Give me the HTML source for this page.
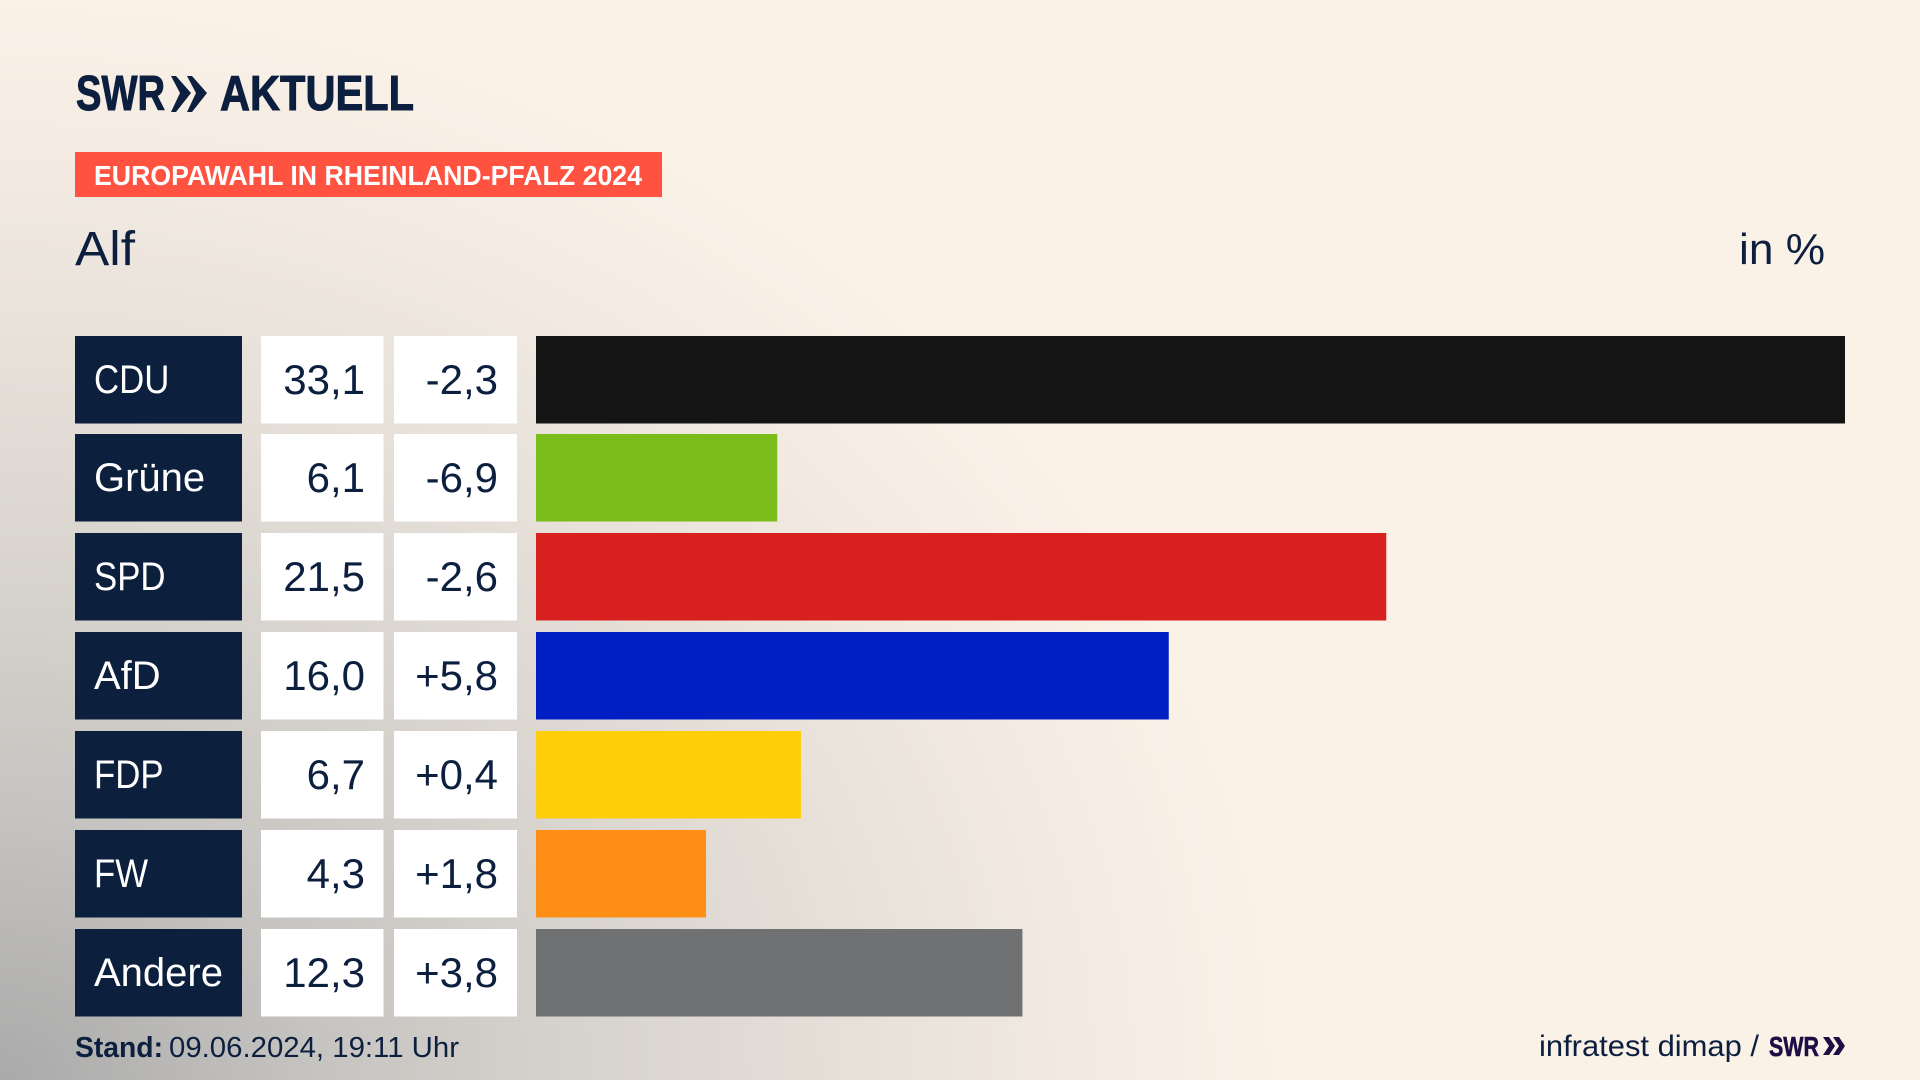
<!DOCTYPE html>
<html lang="de">
<head>
<meta charset="utf-8">
<title>Europawahl in Rheinland-Pfalz 2024 – Alf</title>
<style>
html,body{margin:0;padding:0;width:1920px;height:1080px;overflow:hidden;background:#faf1e7}
#bg{position:absolute;left:0;top:0;width:1920px;height:1080px;
background:
radial-gradient(ellipse 1280px 1080px at 0px 1080px,#aaaaaa 0%,#c6c4c1 25%,#d4d0cb 42%,#e5dfd8 65%,#f3ebe2 85%,#faf1e7 100%),
#faf1e7}
svg{position:absolute;left:0;top:0}
text{font-family:"Liberation Sans",sans-serif;fill:#0c1f3f}
.name{fill:#fff;font-size:40px}
.num{font-size:42px;text-anchor:end}
.bar-0{fill:#141414}.bar-1{fill:#7abd1a}.bar-2{fill:#d8201e}.bar-3{fill:#0020c4}
.bar-4{fill:#ffcd0a}.bar-5{fill:#ff8e17}.bar-6{fill:#707173}
</style>
</head>
<body>
<div id="bg"></div>
<svg id="chart" width="1920" height="1080" viewBox="0 0 1920 1080">
  <g>
    <text x="76" y="110" font-size="49" font-weight="700" stroke="#0c1f3f" stroke-width="1" textLength="89" lengthAdjust="spacingAndGlyphs">SWR</text>
    <polygon points="171,76 176,76 191,93 176,112 171,112 180,93" fill="#0c1f3f"/>
    <polygon points="187,76 192,76 207,93 192,112 187,112 196,93" fill="#0c1f3f"/>
    <text x="220" y="110" font-size="49" font-weight="700" stroke="#0c1f3f" stroke-width="1" textLength="194" lengthAdjust="spacingAndGlyphs">AKTUELL</text>
  </g>
  <rect x="75" y="152" width="587" height="45" fill="#ff5240"/>
  <text x="94" y="185" font-size="28" font-weight="700" style="fill:#fff" textLength="548" lengthAdjust="spacingAndGlyphs">EUROPAWAHL IN RHEINLAND-PFALZ 2024</text>
  <text x="75" y="265" font-size="48" textLength="60" lengthAdjust="spacingAndGlyphs">Alf</text>
  <text x="1739" y="264" font-size="44" textLength="86" lengthAdjust="spacingAndGlyphs">in %</text>
  <g id="rows"></g>
  <text x="75" y="1057" font-size="29" font-weight="700" textLength="88" lengthAdjust="spacingAndGlyphs">Stand:</text>
  <text x="169" y="1057" font-size="29" textLength="290" lengthAdjust="spacingAndGlyphs">09.06.2024, 19:11 Uhr</text>
  <text x="1539" y="1056" font-size="30" textLength="220" lengthAdjust="spacingAndGlyphs">infratest dimap /</text>
  <g>
    <text x="1769" y="1056" font-size="28" font-weight="700" stroke="#1d0e45" stroke-width="0.6" style="fill:#1d0e45" textLength="50" lengthAdjust="spacingAndGlyphs">SWR</text>
    <polygon points="1823,1037 1829,1037 1835,1046 1829,1055 1823,1055 1829,1046" fill="#1d0e45"/>
    <polygon points="1833,1037 1839,1037 1845,1046 1839,1055 1833,1055 1839,1046" fill="#1d0e45"/>
  </g>
</svg>
<script>
const parties = ["CDU", "Grüne", "SPD", "AfD", "FDP", "FW", "Andere"];
const shares = [33.1, 6.1, 21.5, 16.0, 6.7, 4.3, 12.3];
const changes = [-2.3, -6.9, -2.6, 5.8, 0.4, 1.8, 3.8];

const NS = "http://www.w3.org/2000/svg";
const axisMax = 33.1;
const barLeft = 536;
const barFull = 1309;
const rowTop = 335.5;
const rowPitch = 98.85;
const rowHeight = 87.5;
const rows = document.getElementById("rows");

function xScale(v) { return Math.max(0, v) / axisMax * barFull; }
function yScale(i) { return Math.round(rowTop + i * rowPitch); }
function formatShare(v) { return v.toFixed(1).replace(".", ","); }
function formatChange(v) { return (v > 0 ? "+" : "") + v.toFixed(1).replace(".", ","); }
function make(tag, attrs) {
  const el = document.createElementNS(NS, tag);
  for (const k in attrs) el.setAttribute(k, attrs[k]);
  return el;
}

parties.forEach(function (party, i) {
  const y = yScale(i);
  const key = party.toLowerCase();
  const narrow = party === party.toUpperCase() ? 0.87 : 1;

  const nameBox = make("rect", { x: 75, y: y, width: 167, height: rowHeight, fill: "#0c1f3d" });
  
  
  rows.appendChild(nameBox);

  const nameText = make("text", { class: "name", transform: "translate(94," + (y + 57) + ") scale(" + narrow + ",1)" });
  
  
  nameText.textContent = party;
  rows.appendChild(nameText);

  const shareBox = make("rect", { x: 261, y: y, width: 122.5, height: rowHeight, fill: "#fff" });
  
  
  rows.appendChild(shareBox);

  const shareText = make("text", { class: "num", x: 365, y: y + 58 });
  
  
  shareText.textContent = formatShare(shares[i]);
  rows.appendChild(shareText);

  const changeBox = make("rect", { x: 394, y: y, width: 123, height: rowHeight, fill: "#fff" });
  
  
  rows.appendChild(changeBox);

  const changeText = make("text", { class: "num", x: 498, y: y + 58 });
  
  
  changeText.textContent = formatChange(changes[i]);
  rows.appendChild(changeText);

  const bar = make("rect", { class: "bar-" + i, x: barLeft, y: y, width: xScale(shares[i]), height: rowHeight });
  
  
  rows.appendChild(bar);
});
</script>
</body>
</html>
